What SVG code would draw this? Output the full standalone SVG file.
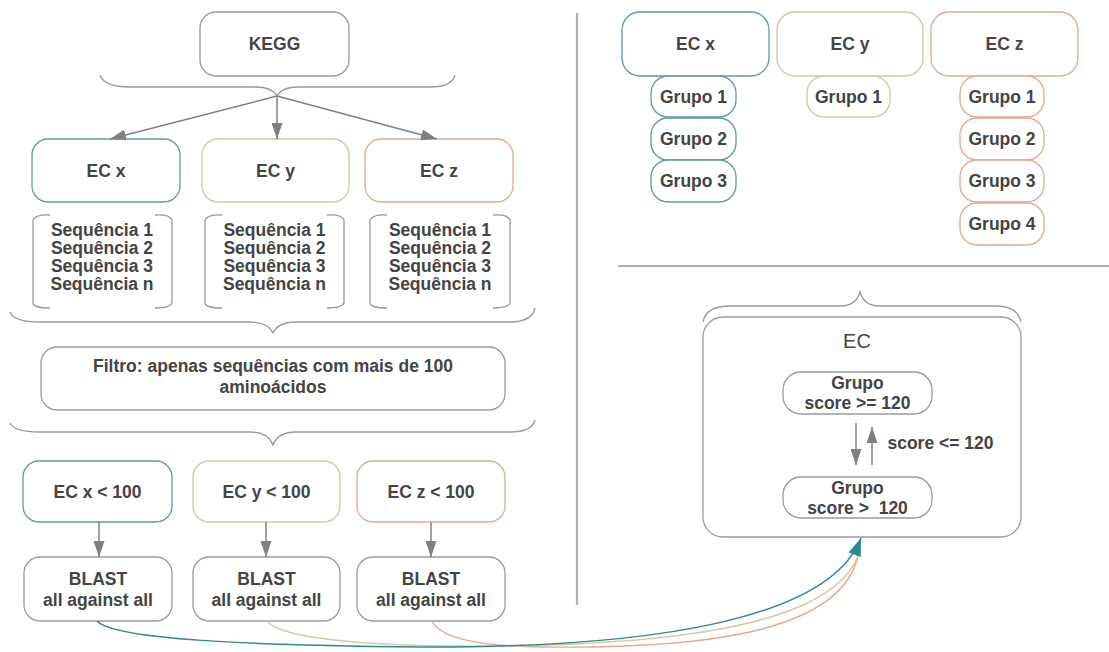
<svg xmlns="http://www.w3.org/2000/svg" width="1109" height="652" viewBox="0 0 1109 652">
<defs>
<style>
.t{font-family:"Liberation Sans",Arial,sans-serif;font-size:17.5px;font-weight:bold;fill:#444;text-anchor:middle;dominant-baseline:central}
.tr{font-family:"Liberation Sans",Arial,sans-serif;font-size:20px;fill:#444;text-anchor:middle;dominant-baseline:central}
.box{fill:#fff;stroke:#9a9a9a;stroke-width:1.3}
.bx{fill:#fff;stroke:#5e9aa3;stroke-width:1.3}
.by{fill:#fff;stroke:#cfc9a2;stroke-width:1.3}
.bz{fill:#fff;stroke:#e4a892;stroke-width:1.3}
.br{fill:none;stroke:#999;stroke-width:1.3}
.ar{fill:none;stroke:#808080;stroke-width:1.5}
.div{stroke:#b0b0b0;stroke-width:2.2}
</style>
<marker id="ahg" viewBox="0 0 10 10" refX="10" refY="5" markerWidth="16" markerHeight="11" markerUnits="userSpaceOnUse" orient="auto" preserveAspectRatio="none">
<path d="M0,0 L10,5 L0,10 z" fill="#808080"/>
</marker>
<marker id="aht" viewBox="0 0 10 10" refX="10" refY="5" markerWidth="18" markerHeight="13" markerUnits="userSpaceOnUse" orient="auto" preserveAspectRatio="none">
<path d="M0,0 L10,5 L0,10 z" fill="#2b8a94"/>
</marker>
</defs>
<rect width="1109" height="652" fill="#fff"/>

<!-- dividers -->
<line class="div" x1="577" y1="13" x2="577" y2="605"/>
<line class="div" x1="618" y1="266" x2="1109" y2="266"/>

<!-- braces -->
<g id="braces">
<path class="br" d="M100 75 Q104 87 130 87 L255 87 Q272 87 277 96 Q282 87 299 87 L430 87 Q452 87 455 75"/>
<path class="br" d="M10 312 Q14 322 40 322 L250 322 Q268 322 273 333 Q278 322 296 322 L510 322 Q532 322 535 308"/>
<path class="br" d="M10 423 Q14 432 40 432 L250 432 Q268 432 273 445 Q278 432 296 432 L510 432 Q532 432 535 420"/>
<path class="br" d="M703 322 Q706 306 730 306 L840 306 Q856 306 860 292 Q864 306 880 306 L995 306 Q1018 306 1021 322"/>
</g>

<g id="kegg"><rect class="box" x="200" y="12" width="149" height="64" rx="16"/><text class="t" x="274.5" y="44">KEGG</text></g>

<g id="ecx"><rect class="bx" x="32" y="139" width="148" height="63" rx="16"/><text class="t" x="106" y="170.5">EC x</text></g>
<g id="ecy"><rect class="by" x="202" y="139" width="147" height="63" rx="16"/><text class="t" x="275.5" y="170.5">EC y</text></g>
<g id="ecz"><rect class="bz" x="365" y="139" width="148" height="63" rx="16"/><text class="t" x="439" y="170.5">EC z</text></g>

<g id="seqx">
<path class="br" d="M50 215 Q36 214 33 220 L33 303 Q34 308 50 308"/>
<path class="br" d="M155 215 Q170 214 172 220 L172 303 Q170 308 155 308"/>
<text class="t" x="102" y="230">Sequência 1</text><text class="t" x="102" y="248">Sequência 2</text><text class="t" x="102" y="266">Sequência 3</text><text class="t" x="102" y="284">Sequência n</text>
</g>
<g id="seqy">
<path class="br" d="M222 215 Q208 214 205 220 L205 303 Q206 308 222 308"/>
<path class="br" d="M327 215 Q342 214 344 220 L344 303 Q342 308 327 308"/>
<text class="t" x="274.5" y="230">Sequência 1</text><text class="t" x="274.5" y="248">Sequência 2</text><text class="t" x="274.5" y="266">Sequência 3</text><text class="t" x="274.5" y="284">Sequência n</text>
</g>
<g id="seqz">
<path class="br" d="M387 215 Q373 214 370 220 L370 303 Q371 308 387 308"/>
<path class="br" d="M493 215 Q508 214 510 220 L510 303 Q508 308 493 308"/>
<text class="t" x="440" y="230">Sequência 1</text><text class="t" x="440" y="248">Sequência 2</text><text class="t" x="440" y="266">Sequência 3</text><text class="t" x="440" y="284">Sequência n</text>
</g>

<g id="filtro"><rect class="box" x="41" y="347" width="464" height="63" rx="16"/>
<text class="t" x="273" y="366">Filtro: apenas sequências com mais de 100</text><text class="t" x="273" y="387">aminoácidos</text></g>

<g id="ecx100"><rect class="bx" x="23" y="461" width="149" height="61" rx="16"/><text class="t" x="97.5" y="491.5">EC x &lt; 100</text></g>
<g id="ecy100"><rect class="by" x="193" y="461" width="147" height="61" rx="16"/><text class="t" x="266.5" y="491.5">EC y &lt; 100</text></g>
<g id="ecz100"><rect class="bz" x="357" y="461" width="148" height="61" rx="16"/><text class="t" x="431" y="491.5">EC z &lt; 100</text></g>

<g id="blastx"><rect class="box" x="24" y="557" width="148" height="64" rx="16"/><text class="t" x="98" y="579">BLAST</text><text class="t" x="98" y="600">all against all</text></g>
<g id="blasty"><rect class="box" x="193" y="557" width="147" height="64" rx="16"/><text class="t" x="266.5" y="579">BLAST</text><text class="t" x="266.5" y="600">all against all</text></g>
<g id="blastz"><rect class="box" x="357" y="557" width="148" height="64" rx="16"/><text class="t" x="431" y="579">BLAST</text><text class="t" x="431" y="600">all against all</text></g>

<!-- right top -->
<g id="r-ecx"><rect class="bx" x="622" y="12" width="147" height="64" rx="18"/><text class="t" x="695.5" y="44">EC x</text></g>
<g id="r-ecy"><rect class="by" x="777" y="12" width="146" height="64" rx="18"/><text class="t" x="850" y="44">EC y</text></g>
<g id="r-ecz"><rect class="bz" x="931" y="12" width="147" height="64" rx="18"/><text class="t" x="1004.5" y="44">EC z</text></g>

<g id="gx1"><rect class="bx" x="651" y="76" width="85" height="41" rx="17"/><text class="t" x="693.5" y="96.5">Grupo 1</text></g>
<g id="gx2"><rect class="bx" x="651" y="118" width="85" height="42" rx="17"/><text class="t" x="693.5" y="139">Grupo 2</text></g>
<g id="gx3"><rect class="bx" x="651" y="160" width="85" height="42" rx="17"/><text class="t" x="693.5" y="181">Grupo 3</text></g>
<g id="gy1"><rect class="by" x="807" y="76" width="83" height="41" rx="17"/><text class="t" x="848.5" y="96.5">Grupo 1</text></g>
<g id="gz1"><rect class="bz" x="960" y="76" width="84" height="41" rx="17"/><text class="t" x="1002" y="96.5">Grupo 1</text></g>
<g id="gz2"><rect class="bz" x="960" y="118" width="84" height="42" rx="17"/><text class="t" x="1002" y="139">Grupo 2</text></g>
<g id="gz3"><rect class="bz" x="960" y="160" width="84" height="42" rx="17"/><text class="t" x="1002" y="181">Grupo 3</text></g>
<g id="gz4"><rect class="bz" x="960" y="203" width="84" height="42" rx="17"/><text class="t" x="1002" y="224">Grupo 4</text></g>

<!-- right bottom -->
<g id="ec-container"><rect class="box" x="703" y="317" width="318" height="220" rx="20"/><text class="tr" x="857" y="341">EC</text></g>
<g id="g-high"><rect class="box" x="783" y="372" width="149" height="42" rx="18"/><text class="t" x="857.5" y="383">Grupo</text><text class="t" x="857.5" y="403">score &gt;= 120</text></g>
<g id="g-low"><rect class="box" x="783" y="477" width="149" height="41" rx="18"/><text class="t" x="857.5" y="488">Grupo</text><text class="t" x="857.5" y="508" xml:space="preserve">score &gt;  120</text></g>
<text class="t" x="940.5" y="443">score &lt;= 120</text>

<g id="connectors">
<line class="ar" x1="277" y1="96" x2="110" y2="139" marker-end="url(#ahg)"/>
<line class="ar" x1="277" y1="96" x2="277" y2="139" marker-end="url(#ahg)"/>
<line class="ar" x1="277" y1="96" x2="437" y2="139" marker-end="url(#ahg)"/>
<line class="ar" x1="99" y1="522" x2="99" y2="557" marker-end="url(#ahg)"/>
<line class="ar" x1="266" y1="522" x2="266" y2="557" marker-end="url(#ahg)"/>
<line class="ar" x1="431" y1="522" x2="431" y2="557" marker-end="url(#ahg)"/>
<line class="ar" x1="856" y1="423" x2="856" y2="465" marker-end="url(#ahg)"/>
<line class="ar" x1="872" y1="465" x2="872" y2="427" marker-end="url(#ahg)"/>
<path fill="none" stroke="#e8a88e" stroke-width="1.4" d="M432 621 C440 638 480 646 540 647 C690 649 840 636 858 556"/>
<path fill="none" stroke="#d6cd9c" stroke-width="1.4" d="M267 621 C280 638 360 645 450 646 C660 648 835 628 859 553"/>
<path fill="none" stroke="#2b8a94" stroke-width="1.5" d="M97 621 C115 640 250 645 420 647 C650 648 830 620 861 538" marker-end="url(#aht)"/>
</g>
</svg>
